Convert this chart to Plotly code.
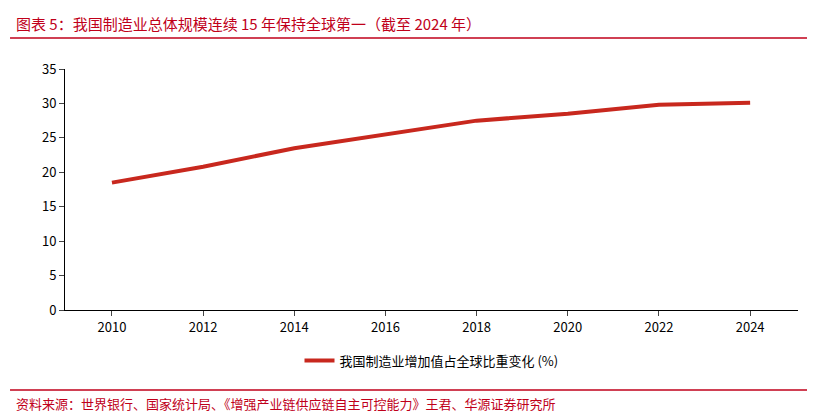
import plotly.graph_objects as go

years = [2010, 2012, 2014, 2016, 2018, 2020, 2022, 2024]
share = [18.5, 20.8, 23.5, 25.5, 27.5, 28.5, 29.8, 30.1]
series_name = "我国制造业增加值占全球比重变化 (%)"
title = "图表 5：我国制造业总体规模连续 15 年保持全球第一（截至 2024 年）"
source = "资料来源：世界银行、国家统计局、《增强产业链供应链自主可控能力》王君、华源证券研究所"

red = "#c0001a"
font = "Noto Sans CJK SC"

fig = go.Figure()
fig.add_trace(go.Scatter(x=years, y=share, mode="lines", name=series_name,
                         line=dict(color="#c8281e", width=4)))

fig.update_layout(
    width=815, height=415,
    margin=dict(l=57, r=25, t=61, b=113, autoexpand=False),
    plot_bgcolor="white", paper_bgcolor="white",
    font=dict(family=font, size=13, color="black"),
    showlegend=True,
    legend=dict(orientation="h", x=0.5, xanchor="center", y=-0.21, yanchor="middle",
                font=dict(size=13)),
    xaxis=dict(tickvals=years, range=[2008.97, 2025.05], showgrid=False, automargin=False,
               showline=True, linecolor="black", ticks="outside", ticklen=5),
    yaxis=dict(range=[0, 35], dtick=5, showgrid=False, showline=True, automargin=False,
               linecolor="black", ticks="outside", ticklen=5),
    annotations=[
        dict(text=title, xref="paper", yref="paper", x=-0.07, y=1.19,
             xanchor="left", yanchor="middle", showarrow=False,
             font=dict(size=15, color=red, family=font)),
        dict(text=source, xref="paper", yref="paper", x=-0.07, y=-0.386,
             xanchor="left", yanchor="middle", showarrow=False,
             font=dict(size=13, color=red, family=font)),
    ],
    shapes=[
        dict(type="line", xref="paper", yref="paper", x0=-0.075, x1=1.03,
             y0=1.129, y1=1.129, line=dict(color=red, width=1.5)),
        dict(type="line", xref="paper", yref="paper", x0=-0.075, x1=1.03,
             y0=-0.332, y1=-0.332, line=dict(color=red, width=1.5)),
    ],
)

fig.write_html("out.html")
